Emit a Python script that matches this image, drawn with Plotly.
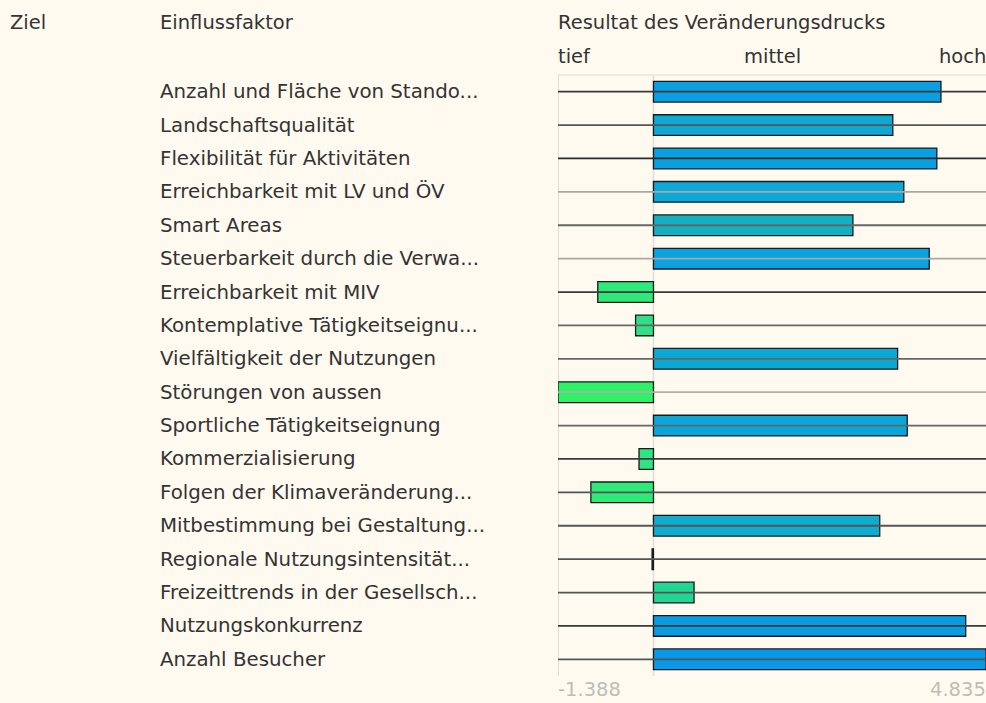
import plotly.graph_objects as go

categories = [
    "Anzahl und Fläche von Stando...",
    "Landschaftsqualität",
    "Flexibilität für Aktivitäten",
    "Erreichbarkeit mit LV und ÖV",
    "Smart Areas",
    "Steuerbarkeit durch die Verwa...",
    "Erreichbarkeit mit MIV",
    "Kontemplative Tätigkeitseignu...",
    "Vielfältigkeit der Nutzungen",
    "Störungen von aussen",
    "Sportliche Tätigkeitseignung",
    "Kommerzialisierung",
    "Folgen der Klimaveränderung...",
    "Mitbestimmung bei Gestaltung...",
    "Regionale Nutzungsintensität...",
    "Freizeittrends in der Gesellsch...",
    "Nutzungskonkurrenz",
    "Anzahl Besucher",
]
values = [4.18, 3.48, 4.12, 3.64, 2.90, 4.01, -0.81, -0.26, 3.55, -1.388,
          3.69, -0.21, -0.91, 3.29, -0.02, 0.59, 4.54, 4.835]
axis_min = -1.388
axis_max = 4.835
scale_labels = ["tief", "mittel", "hoch"]
headers = ["Ziel", "Einflussfaktor", "Resultat des Veränderungsdrucks"]

bar_colors = ["#0a9fe0", "#0ea8d2", "#0aa0e0", "#0ca8d8", "#12b0c2", "#0aa2e0",
              "#2fe87a", "#30e084", "#0ca8d4", "#30f068", "#0aa6da", "#30e482",
              "#30ea78", "#10acd0", "#333333", "#22d692", "#0a9ce2", "#0a98e8"]
line_colors = ["#3a3a3a", "#555555", "#2a2a2a", "#aaa8a0", "#666666", "#aaa8a0",
               "#3a3a3a", "#666666", "#666666", "#b0aea6", "#666666", "#3a3a3a",
               "#555555", "#555555", "#555555", "#555555", "#3a3a3a", "#555555"]

bg = "#fffaf0"
font = "DejaVu Sans"
fsize = 19.5
txt = "#333333"

W, H = 986, 703
L, T, B = 558, 75, 27
plot_w = W - L
plot_h = H - T - B


def px_x(x_ref):
    return (x_ref - L) / plot_w


def px_y(y_ref):
    return 1 - (y_ref - T) / plot_h


fig = go.Figure()

for cat, lc in zip(categories, line_colors):
    fig.add_trace(go.Scatter(x=[axis_min, axis_max], y=[cat, cat], mode="lines",
                             line=dict(color=lc, width=1.8), hoverinfo="skip",
                             showlegend=False))

fig.add_trace(go.Bar(y=categories, x=values, base=0, orientation="h", width=0.62,
                     marker=dict(color=bar_colors, line=dict(color="#1a1a1a", width=1.3)),
                     showlegend=False))

fig.update_layout(
    width=W, height=H,
    paper_bgcolor=bg, plot_bgcolor=bg,
    margin=dict(l=L, r=0, t=T, b=B),
    xaxis=dict(range=[axis_min, axis_max], showgrid=False, zeroline=False,
               showticklabels=False, fixedrange=True),
    yaxis=dict(type="category", categoryorder="array", categoryarray=categories,
               range=[len(categories) - 0.5, -0.5], autorange=False,
               showgrid=False, zeroline=False, showticklabels=False, fixedrange=True),
    font=dict(family=font, size=fsize, color=txt),
)

# vertical guide lines and top border
fig.add_shape(type="line", xref="x", yref="paper", x0=axis_min, x1=axis_min, y0=0, y1=1,
              line=dict(color="#d8d6ce", width=1.5), layer="below")
fig.add_shape(type="line", xref="x", yref="paper", x0=0, x1=0, y0=0, y1=1,
              line=dict(color="#e0ded6", width=1.5), layer="below")
fig.add_shape(type="line", xref="paper", yref="paper", x0=0, x1=1, y0=1, y1=1,
              line=dict(color="#e8e6de", width=1.5), layer="below")

for cat in categories:
    fig.add_annotation(x=px_x(160), xref="paper", y=cat, yref="y",
                       text=cat, showarrow=False, xanchor="left", xshift=-2,
                       font=dict(size=19.8))

# headers
for hx, htxt in zip([10, 160, 558], headers):
    fig.add_annotation(x=px_x(hx), xref="paper", y=px_y(22), yref="paper",
                       yanchor="middle", text=htxt, showarrow=False, xanchor="left",
                       xshift=-2)

for sx, anc, stxt in zip([558, 772, 986], ["left", "center", "right"], scale_labels):
    fig.add_annotation(x=px_x(sx), xref="paper", y=px_y(56), yref="paper",
                       yanchor="middle", text=stxt, showarrow=False, xanchor=anc,
                       xshift={"left": -2, "center": 0, "right": 2}[anc])

for sx, anc, val in zip([558, 986], ["left", "right"], [axis_min, axis_max]):
    fig.add_annotation(x=px_x(sx), xref="paper", y=px_y(689), yref="paper",
                       yanchor="middle", text=f"{val:.3f}", showarrow=False, xanchor=anc,
                       xshift=-2 if anc == "left" else 2,
                       font=dict(color="#c0bdb5", size=fsize))

fig.write_html(
    "out.html",
    config={"displayModeBar": False},
    post_script="document.documentElement.style.margin='0';"
                "document.body.style.margin='0';"
                "document.body.style.overflow='hidden';"
                "document.documentElement.style.overflow='hidden';",
)
